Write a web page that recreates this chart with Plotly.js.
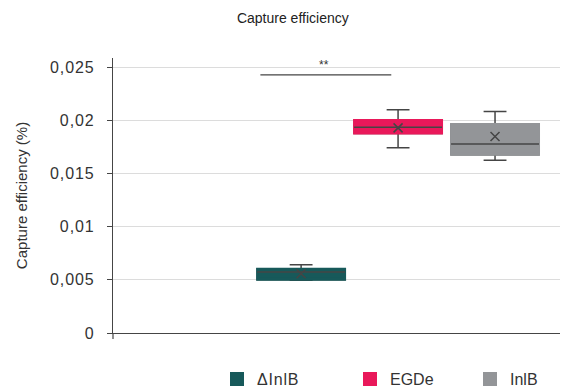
<!DOCTYPE html>
<html>
<head>
<meta charset="utf-8">
<script src="https://cdn.plot.ly/plotly-3.0.1.min.js"></script>
<style>
body{margin:0;padding:0;background:#fff;}
#chart{width:561px;height:387px;}
.ytick text{letter-spacing:0.9px;}
.legendtext{letter-spacing:0.8px;}
</style>
</head>
<body>
<div id="chart"></div>
<script>
const groups = ['ΔInlB', 'EGDe', 'InlB'];
const lowerFence = [0.00496, 0.01744, 0.01626];
const q1Values = [0.00501, 0.01876, 0.01676];
const medianValues = [0.00573, 0.01936, 0.01779];
const q3Values = [0.00604, 0.02005, 0.01967];
const upperFence = [0.00642, 0.02101, 0.02083];
const meanValues = [0.00557, 0.0193, 0.01848];
const colors = ['#17595a', '#e9185a', '#939598'];
const yTickVals = [0, 0.005, 0.01, 0.015, 0.02, 0.025];
const yTickText = ['0', '0,005', '0,01', '0,015', '0,02', '0,025'];
const sigLevel = 0.02428;
const sigLabel = '**';

const dark = '#454545';
const legendNames = ['legend', 'legend2', 'legend3'];
const traces = [];
groups.forEach((g, i) => {
  traces.push({
    type: 'box', x: [g], q1: [q1Values[i]], median: [medianValues[i]], q3: [q3Values[i]],
    lowerfence: [lowerFence[i]], upperfence: [upperFence[i]],
    fillcolor: colors[i], line: {color: dark, width: 1.5}, whiskerwidth: 0.26,
    showlegend: false, hoverinfo: 'skip'
  });
  traces.push({
    type: 'box', x: [g], name: g, q1: [q1Values[i]], median: [q1Values[i]], q3: [q3Values[i]],
    lowerfence: [q1Values[i]], upperfence: [q3Values[i]],
    fillcolor: colors[i], line: {color: colors[i], width: 2}, whiskerwidth: 0,
    showlegend: true, legend: legendNames[i], hoverinfo: 'skip'
  });
  traces.push({
    type: 'box', x: [g], q1: [medianValues[i]], median: [medianValues[i]], q3: [medianValues[i]],
    lowerfence: [medianValues[i]], upperfence: [medianValues[i]],
    fillcolor: 'rgba(0,0,0,0)', line: {color: dark, width: 1.5}, whiskerwidth: 0,
    showlegend: false, hoverinfo: 'skip'
  });
});
traces.push({
  type: 'scatter', mode: 'markers', x: groups, y: meanValues,
  marker: {symbol: 'x-thin-open', size: 9, line: {color: dark, width: 1.5}, color: dark},
  showlegend: false, hoverinfo: 'skip'
});

const legendBase = {
  orientation: 'h', xref: 'container', yref: 'container', yanchor: 'middle', xanchor: 'left',
  y: 1 - 379 / 387, font: {family: 'Liberation Sans, Arial, sans-serif', size: 16, color: '#333'},
  bgcolor: 'rgba(0,0,0,0)', borderwidth: 0
};

const layout = {
  width: 561, height: 387,
  margin: {l: 113, r: 1, t: 58, b: 54},
  paper_bgcolor: '#fff', plot_bgcolor: '#fff',
  font: {family: 'Liberation Sans, Arial, sans-serif', color: '#333'},
  title: {text: 'Capture efficiency', font: {size: 14, color: '#222'},
          xref: 'container', yref: 'container', x: 0.522, xanchor: 'center', y: 1 - 18 / 387, yanchor: 'middle'},
  boxmode: 'overlay', boxgap: 0.093, boxgroupgap: 0,
  xaxis: {type: 'category', categoryorder: 'array', categoryarray: groups,
          range: [-1.94, 2.67], showticklabels: false, showgrid: false, zeroline: false,
          showline: true, linecolor: dark, linewidth: 1.2, ticks: ''},
  yaxis: {range: [0, 0.025875], tickvals: yTickVals, ticktext: yTickText,
          showgrid: true, gridcolor: '#dcdcdc', gridwidth: 1.2, zeroline: false,
          showline: true, linecolor: dark, linewidth: 1.2, ticks: 'outside', ticklen: 5, tickcolor: dark,
          ticklabelstandoff: 9,
          tickfont: {size: 16, color: '#333'},
          title: {text: 'Capture efficiency (%)', font: {size: 15, color: '#333'}, standoff: 18}},
  legend: Object.assign({}, legendBase, {x: 217 / 561}),
  legend2: Object.assign({}, legendBase, {x: 350 / 561}),
  legend3: Object.assign({}, legendBase, {x: 470 / 561}),
  shapes: [
    {type: 'line', xref: 'x', yref: 'y', x0: -0.42, x1: 0.93, y0: sigLevel, y1: sigLevel,
     line: {color: dark, width: 1.3}},
    {type: 'line', xref: 'paper', yref: 'paper', ysizemode: 'pixel', yanchor: 0,
     x0: 0, x1: 0, y0: 0, y1: -6, line: {color: dark, width: 1.2}}
  ],
  annotations: [{xref: 'x', yref: 'y', x: 0.24, y: sigLevel, text: sigLabel, showarrow: false,
                 yanchor: 'bottom', yshift: 1, font: {size: 12, color: '#333'}}]
};

Plotly.newPlot('chart', traces, layout, {displayModeBar: false, staticPlot: true});
</script>
</body>
</html>
